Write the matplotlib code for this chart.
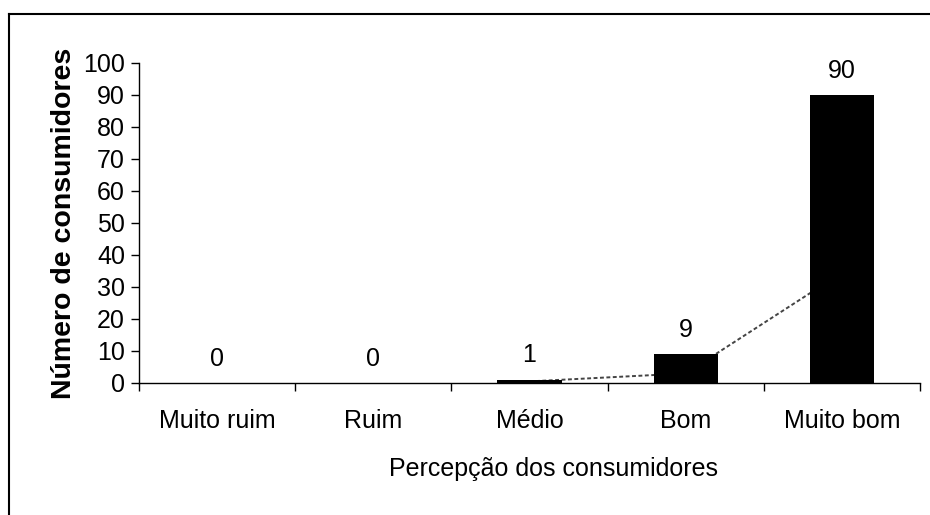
import matplotlib
matplotlib.use('Agg')
import matplotlib.pyplot as plt
import numpy as np

categories = ['Muito ruim', 'Ruim', 'Médio', 'Bom', 'Muito bom']
consumidores = [0, 0, 1, 9, 90]
# dashed trend line (Médio, Bom, Muito bom)
trend_idx = [2, 3, 4]
trend_vals = [0.5, 3.0, 34.5]

plt.rcParams['font.family'] = ['Liberation Sans', 'DejaVu Sans']

fig = plt.figure(figsize=(9.3, 5.15), dpi=100)
ax = fig.add_axes([139/930, 132/515, 781/930, 320/515])

x = np.arange(len(categories))
ax.plot(trend_idx, trend_vals, color='#444444', lw=1.4, ls=(0, (2, 1.3)), zorder=1)
ax.bar(x, consumidores, width=0.41, color='black', zorder=2)
for xi, v in zip(x, consumidores):
    ax.annotate(str(v), (xi, v), xytext=(0, 9), textcoords='offset points',
                ha='center', va='bottom', fontsize=18)

ax.set_xlim(-0.5, 4.5)
ax.set_ylim(0, 100)
ax.set_yticks(range(0, 101, 10))
ax.set_xticks(x)
ax.set_xticklabels(categories, fontsize=18)
ax.set_xticks(np.arange(-0.5, 5, 1), minor=True)
ax.tick_params(axis='x', which='major', length=0, pad=19)
ax.tick_params(axis='x', which='minor', length=6, width=1, direction='out')
ax.tick_params(axis='y', labelsize=18, length=6, width=1, direction='out', pad=4)
for s in ['top', 'right']:
    ax.spines[s].set_visible(False)
for s in ['left', 'bottom']:
    ax.spines[s].set_linewidth(1)

ax.set_xlabel('Percepção dos consumidores', fontsize=18)
ax.xaxis.set_label_coords(0.531, -0.23)
ax.set_ylabel('Número de consumidores', fontsize=20.5, fontweight='bold')
ax.yaxis.set_label_coords(-0.08, 0.5)

# frame border (only top and left are visible in the picture)
fig.add_artist(plt.Line2D([9/930, 1], [1 - 13.5/515, 1 - 13.5/515], color='black', lw=1.5))
fig.add_artist(plt.Line2D([9/930, 9/930], [0, 1 - 13.5/515], color='black', lw=1.5))

fig.savefig('out.png', dpi=100)
